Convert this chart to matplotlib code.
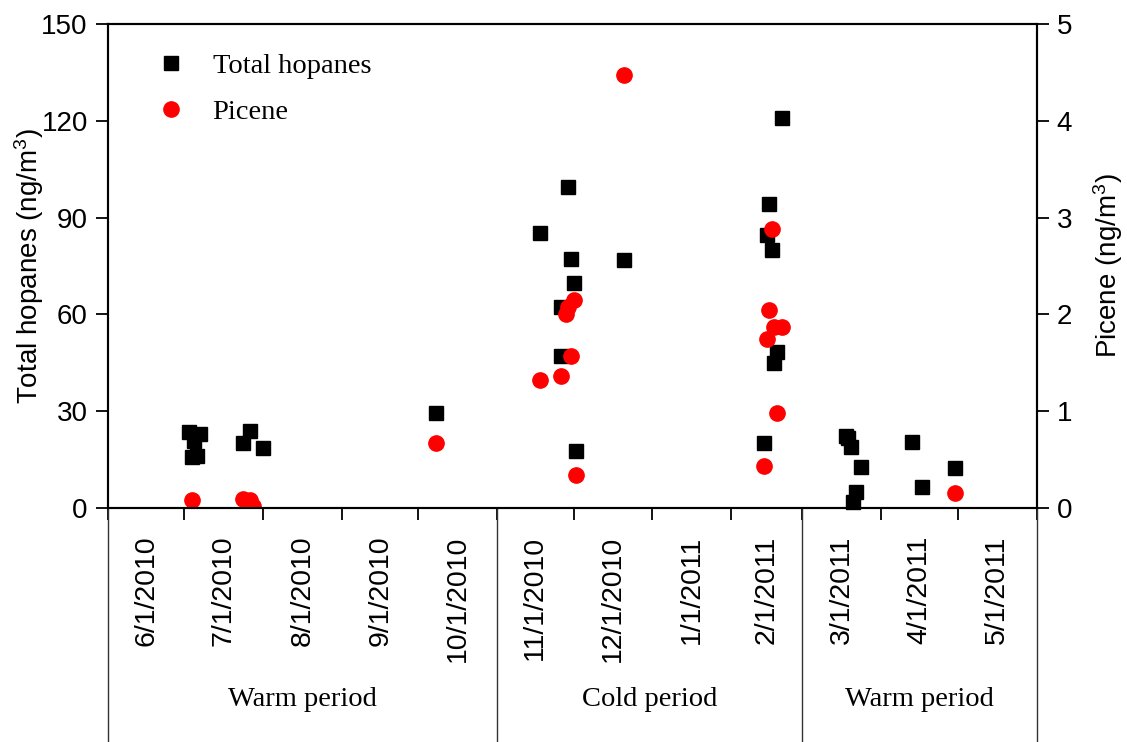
import matplotlib
matplotlib.use("Agg")
import matplotlib.pyplot as plt
import pandas as pd

# 데이터
hopane_dates = ["2010-07-03", "2010-07-07", "2010-07-05", "2010-07-04", "2010-07-06",
                "2010-07-27", "2010-07-24", "2010-08-01", "2010-10-08",
                "2010-11-29", "2010-11-18", "2010-11-30", "2010-12-21", "2010-12-01",
                "2010-11-26", "2010-11-26", "2010-12-02",
                "2011-02-21", "2011-02-16", "2011-02-15", "2011-02-17", "2011-02-19",
                "2011-02-18", "2011-02-14",
                "2011-03-18", "2011-03-19", "2011-03-20", "2011-03-24", "2011-03-22",
                "2011-03-21", "2011-04-13", "2011-04-17", "2011-04-30"]
hopane_values = [23.6, 22.8, 20.8, 15.9, 16.2,
                 24.0, 20.0, 18.5, 29.4,
                 99.6, 85.3, 77.1, 76.9, 69.8,
                 62.4, 47.1, 17.7,
                 120.8, 94.2, 84.6, 80.0, 48.4,
                 44.8, 20.2,
                 22.3, 21.6, 19.0, 12.8, 5.1,
                 2.0, 20.6, 6.4, 12.5]

picene_dates = ["2010-07-04", "2010-07-24", "2010-07-27", "2010-07-28", "2010-10-08",
                "2010-12-01", "2010-11-29", "2010-11-28", "2010-11-30", "2010-11-26",
                "2010-11-18", "2010-12-02", "2010-12-21",
                "2011-02-17", "2011-02-16", "2011-02-18", "2011-02-21", "2011-02-15",
                "2011-02-19", "2011-02-14", "2011-04-30"]
picene_values = [0.08, 0.09, 0.08, 0.02, 0.67,
                 2.15, 2.08, 2.00, 1.57, 1.36,
                 1.32, 0.34, 4.47,
                 2.88, 2.05, 1.87, 1.87, 1.75,
                 0.98, 0.43, 0.16]

month_labels = ["6/1/2010", "7/1/2010", "8/1/2010", "9/1/2010", "10/1/2010",
                "11/1/2010", "12/1/2010", "1/1/2011", "2/1/2011", "3/1/2011",
                "4/1/2011", "5/1/2011"]
period_edges = ["6/1/2010", "11/1/2010", "3/1/2011", "6/1/2011"]
period_names = ["Warm period", "Cold period", "Warm period"]

SANS = "Liberation Sans"
SERIF = "Liberation Serif"
plt.rcParams["font.family"] = SANS
plt.rcParams["font.size"] = 20
plt.rcParams["mathtext.fontset"] = "custom"
plt.rcParams["mathtext.rm"] = SANS
plt.rcParams["mathtext.it"] = SANS

W, H = 1127, 742
fig = plt.figure(figsize=(W / 100, H / 100), dpi=100)
ax = fig.add_axes([108 / W, 1 - 508 / H, (1036.5 - 108) / W, (508 - 24) / H])
ax2 = ax.twinx()

hx = pd.to_datetime(hopane_dates)
px = pd.to_datetime(picene_dates)
ax.plot(hx, hopane_values, ls="none", marker="s", ms=10.5, color="black",
        label="Total hopanes", clip_on=False)
ax2.plot(px, picene_values, ls="none", marker="o", ms=11, color="red",
         label="Picene", clip_on=True)

# 축 범위
starts = pd.to_datetime(month_labels, format="%m/%d/%Y")
edges = pd.to_datetime(period_edges, format="%m/%d/%Y")
ax.set_xlim(edges[0], edges[-1])
ax.set_ylim(0, 150)
ax2.set_ylim(0, 5)
ax.set_yticks(range(0, 151, 30))
ax2.set_yticks(range(0, 6))

# x축: 월 시작에 눈금, 라벨은 월 중간에
ax.set_xticks(list(starts) + [edges[-1]])
ax.set_xticklabels([""] * (len(starts) + 1))
nexts = list(starts[1:]) + [edges[-1]]
mids = [s + (n - s) / 2 for s, n in zip(starts, nexts)]
ax.set_xticks(mids, minor=True)
ax.set_xticklabels(month_labels, minor=True, rotation=90)
ax.tick_params(axis="x", which="minor", length=0, pad=20, labelsize=20.5)
ax.tick_params(axis="x", which="major", length=8.5, width=1.3, direction="out")
ax.tick_params(axis="y", length=8.5, width=1.3, direction="out", pad=6, labelsize=20)
ax2.tick_params(axis="y", length=8.5, width=1.3, direction="out", pad=6, labelsize=20)

for a in (ax, ax2):
    for s in a.spines.values():
        s.set_linewidth(1.5)

ax.set_ylabel("Total hopanes (ng/m$^3$)", fontsize=20, labelpad=-3)
ax2.set_ylabel("Picene (ng/m$^3$)", fontsize=20, labelpad=14)

# 기간 구분선과 라벨
tr = ax.get_xaxis_transform()
depth = -(742 - 508) / 484
for e in edges:
    ax.plot([e, e], [0, depth], transform=tr, color="#333333", lw=1.0, clip_on=False)
for i, name in enumerate(period_names):
    mid = edges[i] + (edges[i + 1] - edges[i]) / 2
    ax.text(mid, -0.396, name, transform=tr, ha="center", va="center",
            fontsize=20.5, family=SERIF)

# 범례
h1, l1 = ax.get_legend_handles_labels()
h2, l2 = ax2.get_legend_handles_labels()
ax2.legend(h1 + h2, l1 + l2, loc="upper left", bbox_to_anchor=(157 / W, 1 - 53 / H),
           bbox_transform=fig.transFigure, frameon=False, borderpad=0,
           borderaxespad=0, handlelength=1.0, handletextpad=0.95, labelspacing=0.7,
           prop={"family": SERIF, "size": 20.5})

fig.savefig("out.png", dpi=100)
